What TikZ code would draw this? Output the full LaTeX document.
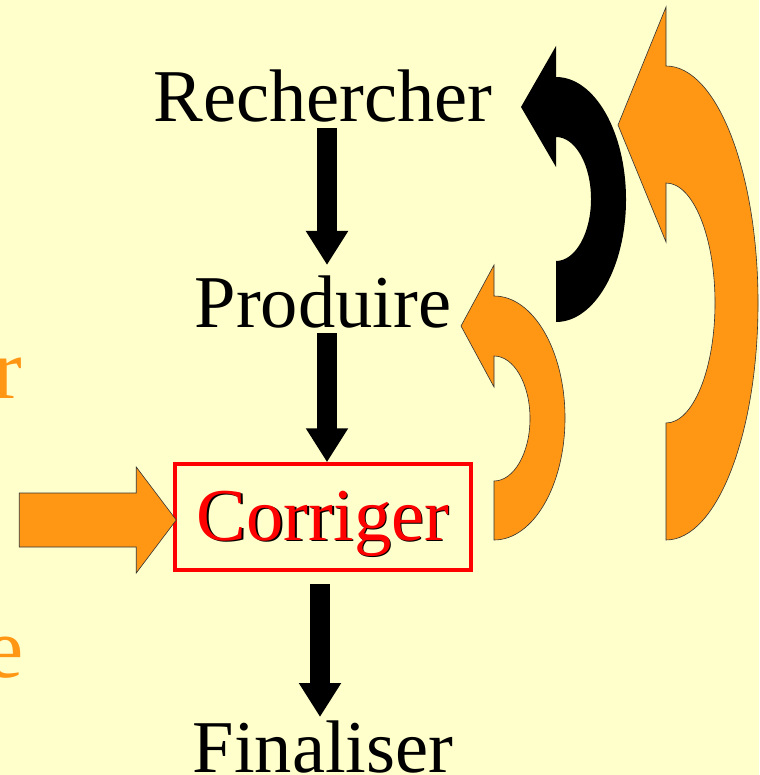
\documentclass[tikz,border=0pt]{standalone}
\usepackage{fontspec}
\setmainfont{Liberation Serif}
\usetikzlibrary{arrows.meta}
\definecolor{bgyellow}{RGB}{255,255,204}
\definecolor{orangefill}{RGB}{255,150,20}

\begin{document}
\begin{tikzpicture}[x=1pt,y=-1pt,
    stage/.style={anchor=base, inner sep=0pt, font=\fontsize{74.5}{80}\selectfont},
    cutword/.style={anchor=base east, inner sep=0pt, text=orangefill, font=\fontsize{86}{90}\selectfont},
    downarrow/.style={line width=20pt, -{Triangle[length=34pt,width=40pt]}},
    orangeshape/.style={fill=orangefill, draw=black!80, line width=0.6pt},
    blackshape/.style={fill=black}]

    \fill[bgyellow] (0,0) rectangle (759,775);
    \useasboundingbox (0,0) rectangle (759,775);
    \clip (0,0) rectangle (759,775);

    % steps
    \node[stage] (rech) at (323,122) {Rechercher};
    \node[stage] (prod) at (323,327) {Produire};
    \node[stage] (corrshadow) at (324.5,541.5) {Corriger};
    \node[stage, draw=red, line width=3.5pt, text=red, text height=76pt,
        text depth=30pt, minimum width=296pt] (corr) at (323,540) {Corriger};
    \node[stage] (fin) at (323,772) {Finaliser};

    % words cut at the left edge
    \node[cutword] (leftr) at (22,398) {r};
    \node[cutword] (lefte) at (24,677) {e};

    % down arrows
    \draw[downarrow] ([shift={(4,6)}]rech.base) -- ([shift={(4,-62)}]prod.base);
    \draw[downarrow] ([shift={(4,6)}]prod.base) -- ([xshift=4]corr.north);
    \draw[downarrow] ([shift={(-3,12)}]corr.south) -- ([shift={(-3,-55)}]fin.base);

    % arrow into Corriger
    \coordinate (intocorr) at ([shift={(3,3)}]corr.west);
    \filldraw[orangeshape] (intocorr) -- ++(-40,-53) -- ++(0,26) -- ++(-117,0)
        -- ++(0,54) -- ++(117,0) -- ++(0,26) -- cycle;

    % loops back
    \fill[blackshape] (556,322) arc[start angle=90, end angle=-90, x radius=70, y radius=122.5]
        -- (556,46) -- (521,107) -- (556,167) -- (556,137)
        arc[start angle=-90, end angle=90, x radius=35, y radius=62] -- cycle;
    \filldraw[orangeshape] (494,540) arc[start angle=90, end angle=-90, x radius=71, y radius=122]
        -- (494,265) -- (461,326) -- (494,387) -- (494,356)
        arc[start angle=-90, end angle=90, x radius=36, y radius=62.5] -- cycle;
    \filldraw[orangeshape] (666,540) arc[start angle=90, end angle=-90, x radius=92, y radius=237]
        -- (666,7) -- (618,125) -- (666,242) -- (666,183)
        arc[start angle=-90, end angle=90, x radius=49, y radius=120] -- cycle;

\end{tikzpicture}
\end{document}
